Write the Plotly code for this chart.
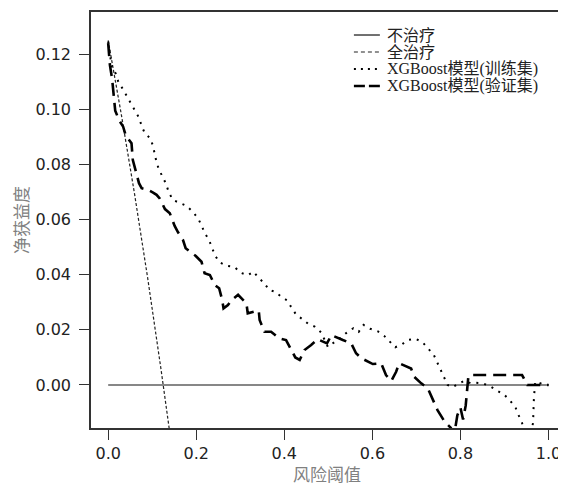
import plotly.graph_objects as go

# ---- data ----
none_x = [0.0, 1.0]
none_y = [0.0, 0.0]

all_x = [0.0, 0.03, 0.06, 0.09, 0.12, 0.14]
all_y = [0.125, 0.098, 0.0692, 0.0385, 0.0057, -0.0174]

train_x = [0.0, 0.008, 0.017, 0.023, 0.033, 0.051, 0.06, 0.07, 0.076, 0.083, 0.096, 0.102,
           0.106, 0.11, 0.116, 0.125, 0.132, 0.138, 0.147, 0.163, 0.178, 0.191, 0.204,
           0.212, 0.219, 0.229, 0.236, 0.243, 0.253, 0.270, 0.287, 0.301, 0.317, 0.330,
           0.342, 0.355, 0.365, 0.378, 0.391, 0.407, 0.416, 0.427, 0.441, 0.454, 0.469,
           0.484, 0.499, 0.514, 0.528, 0.542, 0.557, 0.569, 0.580, 0.595, 0.612, 0.627,
           0.640, 0.652, 0.668, 0.680, 0.698, 0.714, 0.726, 0.739, 0.747, 0.756, 0.764,
           0.771, 0.782, 0.796, 0.809, 0.824, 0.834, 0.850, 0.867, 0.884, 0.900, 0.913,
           0.925, 0.932, 0.940, 0.952, 0.965, 0.967, 0.970, 0.988, 1.0]
train_y = [0.1246, 0.1155, 0.113, 0.110, 0.1074, 0.1022, 0.0995, 0.097, 0.094, 0.0914,
           0.0894, 0.0866, 0.0836, 0.0807, 0.0778, 0.0752, 0.0726, 0.0698, 0.0671, 0.0659,
           0.0650, 0.063, 0.0605, 0.0579, 0.0552, 0.0526, 0.0497, 0.0469, 0.0445, 0.0432,
           0.0428, 0.0407, 0.0398, 0.0411, 0.0388, 0.0369, 0.0345, 0.0339, 0.0323, 0.0306,
           0.0282, 0.0255, 0.0239, 0.0222, 0.0212, 0.019, 0.0138, 0.0154, 0.0172, 0.019,
           0.0206, 0.0193, 0.0218, 0.0204, 0.0195, 0.0178, 0.0155, 0.0137, 0.0148, 0.0163,
           0.0168, 0.0155, 0.0133, 0.0111, 0.0083, 0.0054, 0.0028, 0.0, -0.0008, 0.0004,
           0.0016, 0.0006, 0.0008, 0.0006, -0.0004, -0.0021, -0.0036, -0.0057, -0.0081,
           -0.0109, -0.0137, -0.024, -0.0137, -0.0046, 0.0012, 0.0003, 0.0]

valid_x = [0.0, 0.004, 0.009, 0.013, 0.016, 0.025, 0.034, 0.040, 0.053, 0.056, 0.062, 0.070,
           0.076, 0.090, 0.102, 0.110, 0.117, 0.129, 0.140, 0.151, 0.159, 0.170, 0.176,
           0.199, 0.212, 0.219, 0.231, 0.242, 0.252, 0.259, 0.262, 0.272, 0.280, 0.295,
           0.314, 0.317, 0.342, 0.344, 0.355, 0.370, 0.389, 0.404, 0.416, 0.425, 0.435,
           0.446, 0.461, 0.476, 0.497, 0.507, 0.533, 0.552, 0.563, 0.575, 0.601, 0.620,
           0.631, 0.643, 0.654, 0.661, 0.688, 0.695, 0.711, 0.726, 0.741, 0.748, 0.764,
           0.778, 0.786, 0.793, 0.800, 0.806, 0.812, 0.818, 0.822, 0.940, 0.952, 1.0]
valid_y = [0.124, 0.116, 0.111, 0.104, 0.0995, 0.096, 0.0937, 0.0905, 0.0877, 0.0816, 0.078,
           0.0732, 0.0714, 0.0708, 0.0698, 0.069, 0.0677, 0.0638, 0.0623, 0.0577, 0.0553,
           0.0526, 0.0496, 0.0468, 0.0447, 0.0405, 0.0399, 0.0363, 0.0351, 0.0308, 0.0278,
           0.029, 0.0308, 0.0327, 0.0296, 0.026, 0.027, 0.0236, 0.0193, 0.0193, 0.0169,
           0.0163, 0.0127, 0.0100, 0.0091, 0.0127, 0.0145, 0.0166, 0.0151, 0.0181, 0.0163,
           0.0151, 0.0115, 0.0097, 0.0076, 0.0079, 0.0036, 0.0015, 0.0048, 0.0079, 0.006,
           0.003, 0.0006, -0.0012, -0.0066, -0.0091, -0.0133, -0.0155, -0.018, -0.011,
           -0.0082, -0.0125, -0.0075, 0.003, 0.0036, 0.0036, 0.0, 0.0]

names = ["不治疗", "全治疗", "XGBoost模型(训练集)", "XGBoost模型(验证集)"]
x_ticks = [0.0, 0.2, 0.4, 0.6, 0.8, 1.0]
y_ticks = [0.00, 0.02, 0.04, 0.06, 0.08, 0.10, 0.12]

styles = [
    dict(color="#111", width=1.2, dash="solid"),
    dict(color="#222", width=1.2, dash="3px,2px"),
    dict(color="#000", width=2, dash="2px,6px"),
    dict(color="#000", width=2.6, dash="13px,7px"),
]
legend_styles = [
    dict(color="#111", width=1.2, dash="solid"),
    dict(color="#222", width=1.2, dash="4px,3px"),
    dict(color="#000", width=2, dash="2px,5px"),
    dict(color="#000", width=2.6, dash="11px,4px"),
]
series = [(none_x, none_y), (all_x, all_y), (train_x, train_y), (valid_x, valid_y)]

fig = go.Figure()
for (sx, sy), nm, st in zip(series, names, styles):
    fig.add_trace(go.Scatter(x=sx, y=sy, mode="lines", name=nm, line=st, showlegend=False))

# legend drawn in paper coordinates (tight R-style row spacing)
leg_rows = [0.9447, 0.9038, 0.863, 0.8221]
for nm, st, ly in zip(names, legend_styles, leg_rows):
    fig.add_shape(type="line", xref="paper", yref="paper", x0=0.557, x1=0.612, y0=ly, y1=ly,
                  line=st)
    fig.add_annotation(xref="paper", yref="paper", x=0.625, y=ly, xanchor="left",
                       yanchor="middle", text=nm, showarrow=False, borderpad=0,
                       font=dict(family="Liberation Serif, Noto Sans CJK SC", size=16,
                                 color="#222"))

axis_common = dict(showline=True, linecolor="#333", linewidth=1.5, mirror=True,
                   ticks="outside", ticklen=10, tickcolor="#333", tickwidth=1,
                   showgrid=False, zeroline=False, automargin=False,
                   tickfont=dict(family="DejaVu Sans", size=16, color="#222"))

fig.update_layout(
    width=558, height=478,
    margin=dict(l=83, r=3, t=4, b=58, autoexpand=False),
    paper_bgcolor="white", plot_bgcolor="white",
    showlegend=False,
    xaxis=dict(range=[-0.039, 1.033], tickvals=x_ticks, tickformat=".1f",
               title=dict(text="风险阈值", standoff=15,
                          font=dict(family="Noto Sans CJK SC", size=17, color="#808080")),
               **axis_common),
    yaxis=dict(range=[-0.0156, 0.1353], tickvals=y_ticks, tickformat=".2f",
               ticklabelstandoff=5,
               title=dict(text="净获益度", standoff=10,
                          font=dict(family="Noto Sans CJK SC", size=17, color="#808080")),
               **axis_common),
)

fig.write_html("out.html")
